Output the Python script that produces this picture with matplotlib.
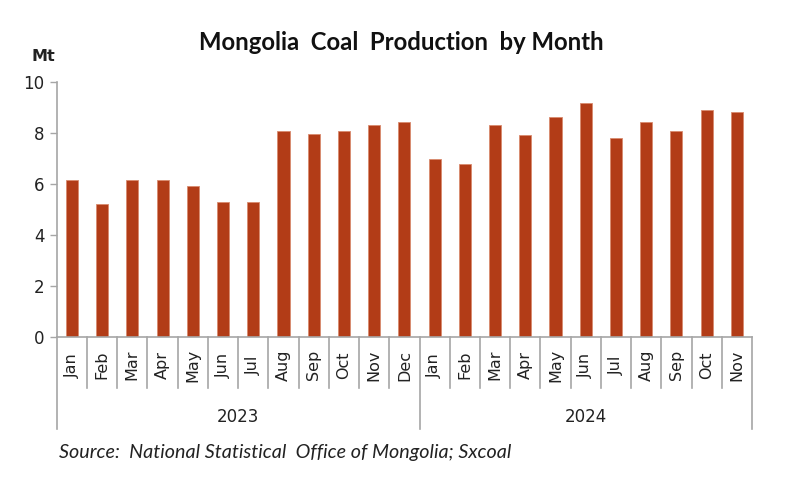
import matplotlib
matplotlib.use("Agg")
import matplotlib.pyplot as plt
import matplotlib.transforms as mtransforms

months_2023 = ["Jan", "Feb", "Mar", "Apr", "May", "Jun", "Jul", "Aug", "Sep", "Oct", "Nov", "Dec"]
months_2024 = ["Jan", "Feb", "Mar", "Apr", "May", "Jun", "Jul", "Aug", "Sep", "Oct", "Nov"]
values_2023 = [6.16, 5.24, 6.16, 6.16, 5.92, 5.31, 5.31, 8.07, 7.96, 8.07, 8.31, 8.44]
values_2024 = [6.97, 6.78, 8.31, 7.94, 8.62, 9.17, 7.82, 8.44, 8.07, 8.92, 8.81]
years = ["2023", "2024"]
yticks = [0, 2, 4, 6, 8, 10]

labels = months_2023 + months_2024
values = values_2023 + values_2024
x = list(range(len(values)))

fig = plt.figure(figsize=(8.0, 4.83), dpi=100)
ax = fig.add_axes([0.071, 0.302, 0.869, 0.528])

grey = "#a6a6a6"
txt = "#222222"
ax.bar(x, values, width=0.4, color="#B23C17", edgecolor="#d98a6e", linewidth=0.6)
ax.set_xlim(-0.5, len(values) - 0.5)
ax.set_ylim(0, 10)
ax.set_yticks(yticks)
ax.set_yticklabels([str(t) for t in yticks], fontsize=12, color=txt, family="DejaVu Sans")
ax.tick_params(axis="y", length=5, color=grey, width=1, pad=4)

for s in ["top", "right"]:
    ax.spines[s].set_visible(False)
for s in ["left", "bottom"]:
    ax.spines[s].set_color(grey)
    ax.spines[s].set_linewidth(1.2)

ax.set_xticks([])

trans = mtransforms.blended_transform_factory(ax.transData, ax.transAxes)
# month labels centred in their boxes
for xi, lab in zip(x, labels):
    ax.text(xi, -0.11, lab, transform=trans, rotation=90, ha="center", va="center",
            fontsize=11.5, color=txt, family="DejaVu Sans")

# month separators
boundaries = [i - 0.5 for i in range(len(values) + 1)]
group_edges = [-0.5, len(values_2023) - 0.5, len(values) - 0.5]
for b in boundaries:
    if b in group_edges:
        ax.plot([b, b], [0, -0.361], transform=trans, color=grey, lw=1.2, clip_on=False)
    else:
        ax.plot([b, b], [0, -0.2], transform=trans, color=grey, lw=1.2, clip_on=False)

# year labels
centers = [(group_edges[0] + group_edges[1]) / 2, (group_edges[1] + group_edges[2]) / 2]
for c, yr in zip(centers, years):
    ax.text(c, -0.315, yr, transform=trans, ha="center", va="center", fontsize=12,
            color=txt, family="DejaVu Sans")

fig.text(0.502, 0.913, "Mongolia  Coal  Production  by Month", ha="center", va="center",
         fontsize=17.2, fontweight="bold", family="Lato", color="#111111")
fig.text(0.054, 0.882, "Mt", ha="center", va="center", fontsize=11.5, fontweight="bold",
         family="DejaVu Sans", color=txt)
fig.text(0.074, 0.064, "Source:  National Statistical  Office of Mongolia; Sxcoal", ha="left",
         va="center", fontsize=14.2, style="italic", family="Lato", color=txt)

fig.savefig("out.png", dpi=100)
